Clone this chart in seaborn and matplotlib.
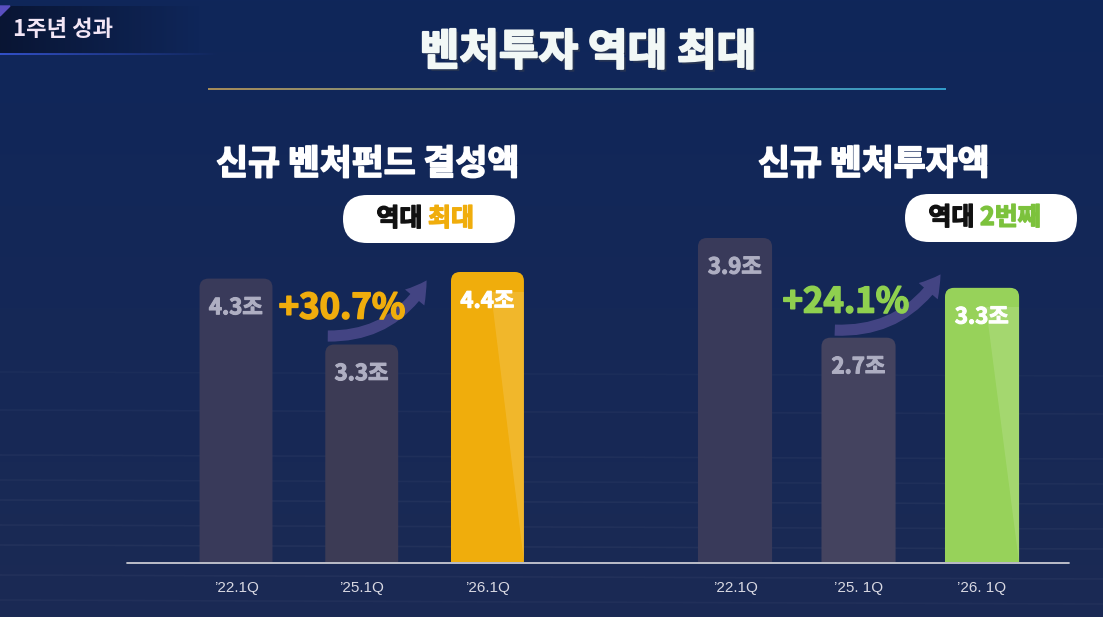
import numpy as np
import pandas as pd
import matplotlib
matplotlib.use("Agg")
import matplotlib.pyplot as plt
import matplotlib.patheffects as pe
from matplotlib.patches import FancyBboxPatch, FancyArrowPatch, Polygon
import seaborn as sns

# data
fund_periods = ["’22.1Q", "’25.1Q", "’26.1Q"]
fund_values = [4.3, 3.3, 4.4]
invest_periods = ["’22.1Q", "’25. 1Q", "’26. 1Q"]
invest_values = [3.9, 2.7, 3.3]
fund_growth = "+30.7%"
invest_growth = "+24.1%"

fund_colors = ["#393a5a", "#3c3b55", "#f0ad0c"]
invest_colors = ["#393a5a", "#44435f", "#97d25a"]
YELLOW = "#f0ad0c"
GREEN = "#8fd04f"

sns.set_style("white")
plt.rcParams["font.family"] = ["Noto Sans CJK KR", "DejaVu Sans"]

W, H = 1103, 617
fig = plt.figure(figsize=(W / 100, H / 100), dpi=100)


def heavy(color, lw=1.2):
    return [pe.withStroke(linewidth=lw, foreground=color)]


# background axes in pixel coordinates
bg = fig.add_axes([0, 0, 1, 1], zorder=0)
bg.set_xlim(0, W)
bg.set_ylim(H, 0)
bg.axis("off")
top = np.array([15, 38, 90]) / 255
bot = np.array([27, 42, 84]) / 255
t = np.linspace(0, 1, H)[:, None, None]
grad = np.repeat(top * (1 - t) + bot * t, W, axis=1)
bg.imshow(grad, extent=[0, W, H, 0], aspect="auto", zorder=0)
for yy, a in [(372, 0.025), (410, 0.03), (455, 0.035), (480, 0.03),
              (500, 0.04), (525, 0.035), (545, 0.04), (575, 0.035), (600, 0.03)]:
    bg.plot([0, W], [yy, yy + 4], color="white", alpha=a, lw=1.2, zorder=1)

# top-left tag
tag_img = np.zeros((1, 200, 4))
tag_img[..., :3] = np.array([8, 18, 45]) / 255
tag_img[..., 3] = np.linspace(0.85, 0, 200)
bg.imshow(tag_img, extent=[0, 200, 54, 6], aspect="auto", zorder=2)
line_img = np.zeros((1, 220, 4))
line_img[..., :3] = np.array([50, 80, 200]) / 255
line_img[..., 3] = np.linspace(1, 0, 220)
bg.imshow(line_img, extent=[0, 220, 55, 53], aspect="auto", zorder=2)
bg.add_patch(Polygon([[0, 6], [10, 6], [0, 16]], color="#5a4fc0", zorder=3))
bg.text(13, 29, "1주년 성과", color="#f3e6f6", fontsize=16, weight="bold",
        ha="left", va="center", zorder=4)

# title and underline
bg.text(588, 52, "벤처투자 역대 최대", color="#f2f8f6", fontsize=31, weight="black",
        ha="center", va="center", zorder=4,
        path_effects=[pe.withSimplePatchShadow(offset=(2, -2), alpha=0.4),
                      pe.withStroke(linewidth=1.5, foreground="#f2f8f6")])
xs = np.linspace(208, 946, 60)
c0 = np.array([210, 170, 90]) / 255
c1 = np.array([60, 190, 235]) / 255
for i in range(len(xs) - 1):
    f = i / (len(xs) - 2)
    bg.plot(xs[i:i + 2], [89, 89], color=c0 * (1 - f) + c1 * f, lw=1.1,
            solid_capstyle="butt", zorder=3)

# subtitles
bg.text(368, 164, "신규 벤처펀드 결성액", color="white", fontsize=25, weight="black",
        ha="center", va="center", zorder=4, path_effects=heavy("white"))
bg.text(874, 164, "신규 벤처투자액", color="white", fontsize=25, weight="black",
        ha="center", va="center", zorder=4, path_effects=heavy("white"))


def pill_box(cx, cy, w, h):
    bg.add_patch(FancyBboxPatch((cx - w / 2, cy - h / 2), w, h,
                                boxstyle="round,pad=0,rounding_size=%d" % (h // 2),
                                fc="white", ec="none", zorder=3))


pill_box(429, 219, 172, 48)
bg.text(428, 219, "역대 ", color="#111111", fontsize=18, weight="black",
        ha="right", va="center", zorder=4, path_effects=heavy("#111111", 1))
bg.text(428, 219, "최대", color=YELLOW, fontsize=18, weight="black",
        ha="left", va="center", zorder=4, path_effects=heavy(YELLOW, 1))
pill_box(991, 218, 172, 48)
bg.text(980, 218, "역대 ", color="#111111", fontsize=18, weight="black",
        ha="right", va="center", zorder=4, path_effects=heavy("#111111", 1))
bg.text(980, 218, "2번째", color="#7cc23c", fontsize=18, weight="black",
        ha="left", va="center", zorder=4, path_effects=heavy("#7cc23c", 1))

# growth arrows and labels
for (x0, y0, x1, y1) in [(325, 336, 428, 278), (832, 330, 942, 272)]:
    bg.add_patch(FancyArrowPatch((x0, y0), (x1, y1),
                                 connectionstyle="arc3,rad=0.3",
                                 arrowstyle="simple,head_width=18,head_length=15,tail_width=8",
                                 color="#4c4a8c", alpha=0.85, lw=0, zorder=3))
bg.text(342, 308, fund_growth, color=YELLOW, fontsize=25, weight="black",
        ha="center", va="center", zorder=4, path_effects=heavy(YELLOW))
bg.text(846, 302, invest_growth, color=GREEN, fontsize=25, weight="black",
        ha="center", va="center", zorder=4, path_effects=heavy(GREEN))

# baseline
bg.plot([127, 1069], [562.5, 562.5], color="#c9c9d2", lw=1.3, zorder=5)


def bar_panel(rect, periods, values, colors, xlim, ylim_top, width):
    ax = fig.add_axes(rect, zorder=2)
    ax.patch.set_alpha(0)
    df = pd.DataFrame({"period": periods, "value": values})
    sns.barplot(data=df, x="period", y="value", hue="period", palette=colors,
                width=width, legend=False, ax=ax, saturation=1)
    ax.set_xlim(*xlim)
    ax.set_ylim(0, ylim_top)
    bbox = ax.get_window_extent()
    x_per_px = (xlim[1] - xlim[0]) / bbox.width
    y_per_px = ylim_top / bbox.height
    r = 9 * x_per_px
    asp = y_per_px / x_per_px
    for p, c in zip(list(ax.patches), colors):
        x, w, h = p.get_x(), p.get_width(), p.get_height()
        p.remove()
        ax.add_patch(FancyBboxPatch((x, -1), w, h + 1,
                                    boxstyle="round,pad=0,rounding_size=%f" % r,
                                    mutation_aspect=asp, fc=c, ec="none"))
    # highlight on the coloured bar
    x, h = 2 - width / 2, values[2]
    ax.add_patch(Polygon([[x + width * 0.55, h * 0.93], [x + width, h * 0.93], [x + width, 0]],
                         closed=True, fc="white", alpha=0.13, ec="none"))
    for i, v in enumerate(values):
        col = "white" if i == 2 else "#aeaec2"
        ax.annotate(f"{v}조", (i, v), xytext=(0, -21), textcoords="offset points",
                    ha="center", va="center", fontsize=16, weight="black", color=col,
                    path_effects=heavy(col, 0.8))
    ax.set_xticks(range(len(periods)))
    ax.set_xticklabels(periods, color="#d8d8e2", fontsize=11,
                       family=["Liberation Sans", "DejaVu Sans"])
    ax.tick_params(axis="x", length=0, pad=14)
    ax.set_yticks([])
    ax.set_xlabel("")
    ax.set_ylabel("")
    sns.despine(ax=ax, left=True, bottom=True)
    return ax


ax_bottom = (H - 562) / H
ax_h = 362 / H
bar_panel([127 / W, ax_bottom, (580 - 127) / W, ax_h], fund_periods, fund_values,
          fund_colors, (-0.867, 2.736), 4.4 * 362 / 290, 0.58)
bar_panel([600 / W, ax_bottom, (1069 - 600) / W, ax_h], invest_periods, invest_values,
          invest_colors, (-1.093, 2.704), 3.9 * 362 / 324, 0.6)

fig.savefig("out.png", dpi=100)
